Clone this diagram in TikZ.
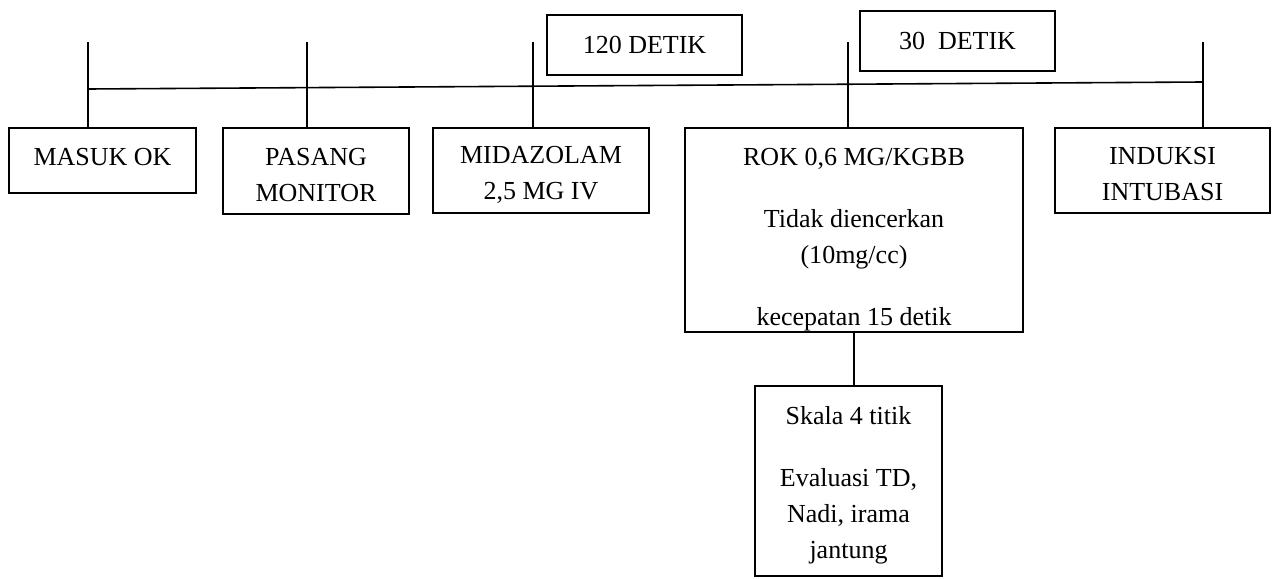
\documentclass[tikz,border=0pt]{standalone}
\usepackage{fontspec}
\setmainfont{Liberation Serif}
\newcommand{\padtop}[1]{\rule{0pt}{#1}}
\tikzset{
  stage/.style={draw, line width=0.8pt, inner sep=0pt, align=center,
    font=\fontsize{13}{18}\selectfont},
  link/.style={line width=0.8pt}
}
\begin{document}
\begin{tikzpicture}[x=1pt,y=-1pt]
    \useasboundingbox (0,0) rectangle (636,289);

    % boxes under the time line
    \node[stage, minimum width=93.5pt, minimum height=32.5pt]
    (masuk) at (51.25,80.25) {\rule[-4pt]{0pt}{1pt}MASUK OK};
    \node[stage, minimum width=93pt, minimum height=43pt]
    (pasang) at (158,85.5) {\padtop{12.5pt}PASANG\\MONITOR};
    \node[stage, minimum width=108pt, minimum height=42.5pt]
    (midaz) at (270.5,85.25) {\padtop{13pt}MIDAZOLAM\\2,5 MG IV};
    \node[stage, minimum width=169pt, minimum height=102pt]
    (rok) at (427,115)
    {\padtop{18pt}ROK 0,6 MG/KGBB\\[13pt]Tidak diencerkan\\(10mg/cc)\\[13pt]kecepatan 15 detik};
    \node[stage, minimum width=107.5pt, minimum height=42.5pt]
    (induksi) at (581.25,85.25) {\padtop{12.5pt}INDUKSI\\INTUBASI};

    % time labels
    \node[stage, minimum width=97.5pt, minimum height=30pt]
    (det120) at (322.25,22.5) {120 DETIK};
    \node[stage, minimum width=97.5pt, minimum height=30pt]
    (det30) at (478.75,20.5) {30\ \ DETIK};

    \node[stage, minimum width=93.5pt, minimum height=95pt]
    (skala) at (424.25,240.5)
    {\padtop{13pt}Skala 4 titik\\[13pt]Evaluasi TD,\\Nadi, irama\\jantung};

    % time line
    \coordinate (start) at (44,44.5);
    \coordinate (end) at (601.5,41);
    \draw[link] (start) -- (end);

    \foreach \n/\x in
    {masuk/44,pasang/153.5,midaz/266.5,rok/424,induksi/601.5}
    {\coordinate (top-\n) at (\x,21);
    \draw[link] (top-\n) -- (top-\n |- \n.north);}

    \draw[link] (rok.south) -- (rok.south |- skala.north);
  \end{tikzpicture}
\end{document}
